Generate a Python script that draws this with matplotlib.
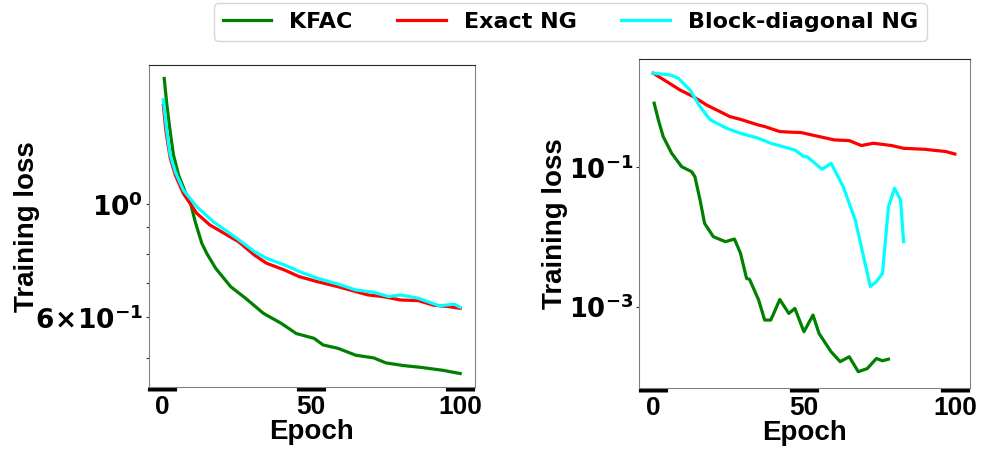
import numpy as np
import matplotlib.pyplot as plt

plt.rcParams['font.family'] = ['Liberation Sans', 'DejaVu Sans']
plt.rcParams['font.weight'] = 'bold'

# ---- left panel: epochs / losses ----
kfac_ep_l = [0.7, 1.6, 2.7, 3.8, 5.5, 7.7, 9.4, 11.1, 13.3, 15, 18, 23, 28, 34, 40, 45, 51, 54, 59,
             65, 71, 75, 81, 87, 94, 100]
kfac_l = [1.76, 1.56, 1.385, 1.247, 1.14, 1.057, 1.01, 0.923, 0.838, 0.80, 0.748, 0.689, 0.654,
          0.611, 0.584, 0.558, 0.546, 0.530, 0.522, 0.506, 0.500, 0.489, 0.483, 0.479, 0.473, 0.466]

exact_ep_l = [0.4, 1.3, 2.7, 4.4, 7.1, 11.6, 16, 21.7, 25.6, 31, 35, 41, 46, 52, 59, 65, 69, 74,
              80, 86, 91, 96, 100]
exact_l = [1.56, 1.385, 1.23, 1.14, 1.049, 0.959, 0.910, 0.870, 0.844, 0.794, 0.766, 0.743, 0.721,
           0.705, 0.689, 0.674, 0.664, 0.659, 0.649, 0.647, 0.634, 0.630, 0.625]

block_ep_l = [0.4, 1.6, 2.7, 4.4, 7.1, 11.6, 17.2, 25, 31, 35, 41, 46, 52, 59, 65, 71, 76, 80, 86,
              93, 98, 100]
block_l = [1.60, 1.385, 1.247, 1.157, 1.065, 0.988, 0.923, 0.857, 0.807, 0.783, 0.760, 0.738,
           0.716, 0.697, 0.679, 0.672, 0.659, 0.664, 0.654, 0.632, 0.637, 0.628]

# ---- right panel ----
kfac_ep_r = [0.4, 1.8, 3.4, 6.2, 9.5, 12.8, 13.9, 15.6, 17.1, 20, 24, 27, 29, 31, 32, 35, 37, 39,
             40, 42, 45, 47, 50, 53, 55, 59, 62, 65, 68, 71, 74, 76, 78]
kfac_r = [0.83, 0.477, 0.275, 0.159, 0.102, 0.0865, 0.0733, 0.034, 0.0157, 0.0101, 0.00857,
          0.00935, 0.00583, 0.00255, 0.00247, 0.00125, 0.000644, 0.000644, 0.000802, 0.00127,
          0.000802, 0.000946, 0.000438, 0.000759, 0.000414, 0.000226, 0.000163, 0.000192,
          0.000117, 0.000130, 0.000181, 0.000168, 0.000177]

exact_ep_r = [0.1, 4.6, 9, 13.4, 17.8, 22.2, 25.5, 28.8, 34.9, 37, 42, 46, 49, 54, 60, 65, 69, 73,
              79, 83, 90, 97, 100]
exact_r = [2.23, 1.69, 1.28, 1.03, 0.78, 0.628, 0.532, 0.489, 0.404, 0.384, 0.325, 0.318, 0.315,
           0.282, 0.247, 0.241, 0.205, 0.221, 0.205, 0.187, 0.181, 0.168, 0.155]

block_ep_r = [0.1, 5.7, 8.4, 12.3, 15.6, 19, 24.4, 28.8, 34.9, 39, 45, 47, 50, 51, 56, 59, 63, 67,
              69, 72, 74, 76, 78, 80, 82, 83]
block_r = [2.23, 2.11, 1.89, 1.28, 0.74, 0.477, 0.363, 0.309, 0.261, 0.221, 0.187, 0.177, 0.142,
           0.142, 0.0936, 0.114, 0.0527, 0.0175, 0.00727, 0.00194, 0.00229, 0.0030, 0.0272, 0.050,
           0.034, 0.00857]

labels = ['KFAC', 'Exact NG', 'Block-diagonal NG']
colors = ['green', 'red', 'cyan']

fig = plt.figure(figsize=(9.83, 4.62), dpi=100)
ax1 = fig.add_axes([0.1513, 0.1617, 0.332, 0.6976])
ax2 = fig.add_axes([0.6504, 0.1608, 0.3364, 0.7117])

panels = [
    (ax1, [(kfac_ep_l, kfac_l), (exact_ep_l, exact_l), (block_ep_l, block_l)], (0.438, 1.87), -0.333),
    (ax2, [(kfac_ep_r, kfac_r), (exact_ep_r, exact_r), (block_ep_r, block_r)], (6.9e-5, 3.58), -0.215),
]

for ax, series, ylim, ylab_x in panels:
    for (ep, val), c, lab in zip(series, colors, labels):
        ax.plot(ep, val, color=c, lw=2.3, label=lab)
    ax.set_yscale('log')
    ax.set_ylim(*ylim)
    ax.set_xlim(-4.5, 105)
    ax.set_xticks([0, 50, 100])
    ax.set_xlabel('Epoch', fontsize=20, fontweight='bold', labelpad=0)
    ax.set_ylabel('Training loss', fontsize=20, fontweight='bold')
    ax.yaxis.set_label_coords(ylab_x, 0.5)
    ax.tick_params(axis='x', width=21, length=2.7, labelsize=19, color='black', pad=3)
    ax.tick_params(axis='y', which='both', width=0.8, length=2.5, labelsize=19, color='0.2', pad=1.5)
    for s in ax.spines.values():
        s.set_color('0.5')
    ax.spines['top'].set_color('0.15')

ax1.set_yticks([0.6, 1.0])
ax1.set_yticklabels([r'$\mathbf{6\!\times\!10^{-1}}$', r'$\mathbf{10^{0}}$'])
ax1.set_yticks([0.5, 0.7, 0.8, 0.9], minor=True)
ax1.set_yticklabels([], minor=True)

ax2.set_yticks([1e-3, 1e-1])
ax2.set_yticklabels([r'$\mathbf{10^{-3}}$', r'$\mathbf{10^{-1}}$'])
ax2.tick_params(axis='y', labelsize=18.5)
ax2.set_yticks([], minor=True)

handles, labs = ax1.get_legend_handles_labels()
fig.legend(handles, labs, loc='upper center', bbox_to_anchor=(0.58, 0.998), ncol=3,
           prop={'family': 'DejaVu Sans', 'weight': 'bold', 'size': 16},
           handlelength=2.2, handletextpad=0.8, columnspacing=2.0, borderaxespad=0.1,
           frameon=True)

fig.savefig('out.png', dpi=100)
